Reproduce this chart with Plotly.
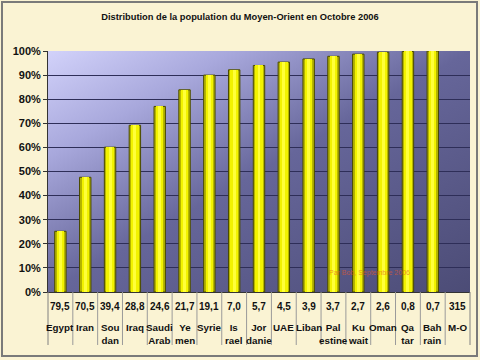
import base64
import plotly.graph_objects as go

# ---- data ----
countries = ["Egypt", "Iran", "Soudan", "Iraq", "Saudi Arab", "Yemen", "Syrie", "Israel",
             "Jordanie", "UAE", "Liban", "Palestine", "Kuwait", "Oman", "Qatar", "Bahrain", "M-O"]
table_names = ["Egypt", "Iran", "Sou<br>dan", "Iraq", "Saudi<br>Arab", "Ye<br>men", "Syrie", "Is<br>rael",
               "Jor<br>danie", "UAE", "Liban", "Pal<br>estine", "Ku<br>wait", "Oman", "Qa<br>tar", "Bah<br>rain", "M-O"]
population = ["79,5", "70,5", "39,4", "28,8", "24,6", "21,7", "19,1", "7,0", "5,7", "4,5",
              "3,9", "3,7", "2,7", "2,6", "0,8", "0,7", "315"]
cumulative_pct = [25.2, 47.6, 60.1, 69.2, 77.0, 83.9, 90.0, 92.2, 94.0, 95.4,
                  96.7, 97.8, 98.7, 99.5, 99.8, 100.0]
bar_countries = countries[:len(cumulative_pct)]

W, H = 480, 360
L, R, T, B = 48, 10, 51, 68
pw, ph = W - L - R, H - T - B

def px_x(p):
    return (p - L) / pw

def px_y(p):
    return (H - B - p) / ph

FONT = "Liberation Sans, Arial, sans-serif"
CREAM = "#FAF3D3"
GRID = "#2E2E58"

fig = go.Figure()
# cylinder-like bars: outer, middle, highlight
fig.add_trace(go.Bar(x=bar_countries, y=cumulative_pct, width=0.46,
                     marker=dict(color="#B5B500", line=dict(color="#4A4A00", width=1)),
                     hoverinfo="skip"))
fig.add_trace(go.Bar(x=bar_countries, y=cumulative_pct, width=0.30,
                     marker=dict(color="#F2F200", line=dict(width=0)), hoverinfo="skip"))
fig.add_trace(go.Bar(x=bar_countries, y=cumulative_pct, width=0.12,
                     marker=dict(color="#FFFF3A", line=dict(width=0)), hoverinfo="skip"))

# gradient background for plot area
svg = ("<svg xmlns='http://www.w3.org/2000/svg' width='422' height='241' viewBox='0 0 422 241' "
       "preserveAspectRatio='none'><defs><linearGradient id='g' x1='0' y1='0' x2='1' y2='1'>"
       "<stop offset='0' stop-color='#D2D2FA'/><stop offset='0.22' stop-color='#A8A8DC'/>"
       "<stop offset='0.5' stop-color='#66669A'/><stop offset='1' stop-color='#4C4C76'/>"
       "</linearGradient></defs><rect width='422' height='241' fill='url(#g)'/></svg>")
src = "data:image/svg+xml;base64," + base64.b64encode(svg.encode()).decode()

shapes = []
# outer border
shapes.append(dict(type="rect", xref="paper", yref="paper",
                   x0=px_x(2), x1=px_x(477), y0=px_y(356), y1=px_y(2),
                   line=dict(color="#7A7A7A", width=2), fillcolor="rgba(0,0,0,0)", layer="below"))
# table separators
n = len(countries)
for k in range(n + 1):
    shapes.append(dict(type="line", xref="paper", yref="paper",
                       x0=k / n, x1=k / n, y0=0, y1=px_y(345),
                       line=dict(color="#9A9A9A" if 0 < k < n else "#808080", width=1)))

annotations = []
for c, v, nm in zip(countries, population, table_names):
    annotations.append(dict(x=c, xref="x", y=px_y(306), yref="paper", text="<b>" + v + "</b>",
                            showarrow=False, font=dict(family=FONT, size=10, color="#111111"),
                            xanchor="center", yanchor="middle"))
    annotations.append(dict(x=c, xref="x", y=px_y(320), yref="paper", text="<b>" + nm + "</b>",
                            showarrow=False, font=dict(family=FONT, size=9.8, color="#111111"),
                            xanchor="center", yanchor="top", align="center"))
annotations.append(dict(x=px_x(412), xref="paper", y=px_y(279), yref="paper",
                        text="Par Bob, Septembre 2006", showarrow=False,
                        font=dict(family=FONT, size=7, color="rgba(230,90,40,0.65)")))

fig.update_layout(
    width=W, height=H,
    margin=dict(l=L, r=R, t=T, b=B, pad=0),
    paper_bgcolor=CREAM, plot_bgcolor="#7878A8",
    barmode="overlay", showlegend=False, bargap=0,
    title=dict(text="<b>Distribution de la population du Moyen-Orient en Octobre 2006</b>",
               x=0.5, xanchor="center", y=1 - 17 / H, yanchor="middle",
               font=dict(family=FONT, size=9.3, color="#111111")),
    font=dict(family=FONT, color="#111111"),
    images=[dict(source=src, xref="paper", yref="paper", x=0, y=1, sizex=1, sizey=1,
                 sizing="stretch", layer="below", xanchor="left", yanchor="top")],
    shapes=shapes,
    annotations=annotations,
)
fig.update_xaxes(type="category", categoryorder="array", categoryarray=countries,
                 range=[-0.5, n - 0.5], showticklabels=False, showgrid=False,
                 showline=True, linecolor="#333333", linewidth=1, ticks="", zeroline=False)
fig.update_yaxes(range=[0, 100], dtick=10, ticksuffix="%", showgrid=True, gridcolor=GRID, gridwidth=1,
                 showline=True, linecolor="#333333", linewidth=1, ticks="outside", ticklen=4,
                 tickcolor="#333333", zeroline=False,
                 tickfont=dict(family=FONT, size=11, color="#111111", weight="bold"))

fig.write_html("out.html", config={"displayModeBar": False, "staticPlot": True},
               post_script="document.body.style.margin='0';document.body.style.background='" + CREAM + "';")
